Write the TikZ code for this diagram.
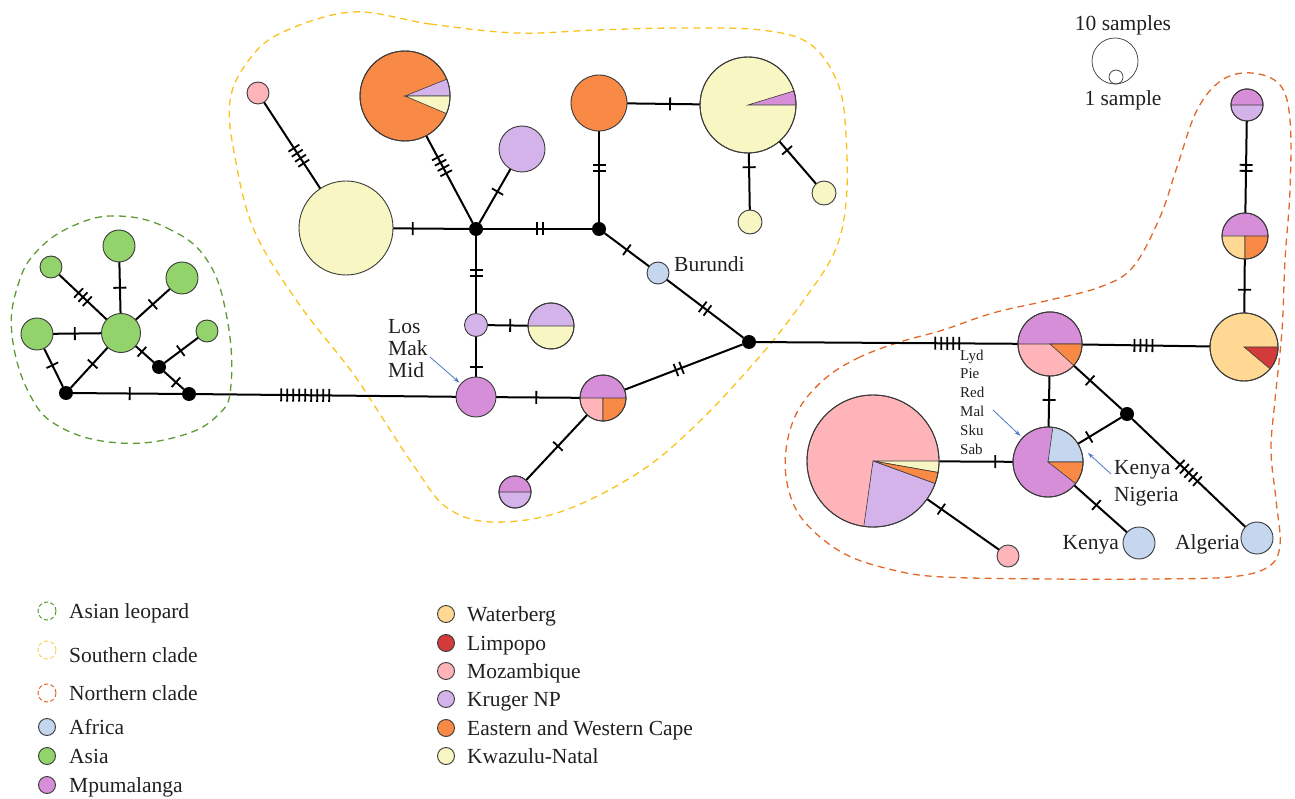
\documentclass[tikz,border=0pt]{standalone}
\usepackage{fontspec}
\setmainfont{Liberation Serif}
\usetikzlibrary{decorations.markings,arrows.meta}
\pgfdeclarelayer{bg}
\pgfsetlayers{bg,main}
\definecolor{africa}{HTML}{C5D6EF}
\definecolor{asia}{HTML}{92D36C}
\definecolor{mpu}{HTML}{D68ED8}
\definecolor{water}{HTML}{FFD993}
\definecolor{limpopo}{HTML}{D33B3B}
\definecolor{moz}{HTML}{FFB4BA}
\definecolor{kruger}{HTML}{D4B2EA}
\definecolor{cape}{HTML}{F98A46}
\definecolor{kzn}{HTML}{F8F6C2}
\definecolor{outl}{HTML}{3A3A3A}
\definecolor{txt}{HTML}{231F20}
\definecolor{asiand}{HTML}{5E9A35}
\definecolor{southd}{HTML}{FBC21E}
\definecolor{northd}{HTML}{E0682A}
\definecolor{arrowblue}{HTML}{4A78C8}
\newcommand\pslice[5]{\filldraw[fill=#5,draw=outl,line width=0.6pt] (#1.center) -- ++(#2:#4pt) arc[start angle=#2,end angle=#3,radius=#4pt] -- cycle;}
\newcommand\prim[2]{\draw[outl,line width=0.9pt] (#1.center) circle[radius=#2pt];}
\begin{document}
\begin{tikzpicture}[x=1pt,y=-1pt,
  hap/.style={circle,draw=outl,line width=0.9pt,inner sep=0pt,outer sep=0pt,minimum size=#1},
  hub/.style={circle,fill=black,inner sep=0pt,outer sep=0pt,minimum size=14pt},
  link/.style={line width=2pt,draw=black},
  mut/.style n args={2}{postaction={decorate},decoration={markings,mark=at position #1 with {\foreach \k in {1,...,#2}{\pgfmathsetmacro\off{(\k-(#2+1)/2)*6}\draw[line width=1.8pt] (\off pt,-6.5pt) -- (\off pt,6.5pt);}}}},
  clade/.style={line width=1.3pt,dash pattern=on 7pt off 5pt},
  lbl/.style={font=\fontsize{21.5}{22}\selectfont,text=txt,inner sep=0pt},
  slbl/.style={font=\fontsize{15}{18.8}\selectfont,text=txt,inner sep=0pt},
  arr/.style={draw=arrowblue,line width=0.8pt,-{Stealth[length=6pt,width=4pt]}},
  legd/.style={circle,line width=1pt,dash pattern=on 4pt off 2.5pt,minimum size=18pt,inner sep=0pt},
  legc/.style={circle,draw=outl,line width=0.9pt,minimum size=17pt,inner sep=0pt}]
\useasboundingbox (0,0) rectangle (1295,799);

% ---------- Asian cluster
\node[hap=39pt,fill=asia] (g0) at (121,333) {};
\node[hap=32pt,fill=asia] (g1) at (119,246) {};
\node[hap=22pt,fill=asia] (g2) at (51,267) {};
\node[hap=32pt,fill=asia] (g3) at (182,278) {};
\node[hap=32pt,fill=asia] (g4) at (37,334) {};
\node[hap=22pt,fill=asia] (g5) at (207,331) {};
\node[hub] (hA) at (159,367) {};
\node[hub] (hB) at (66,393) {};
\node[hub] (hC) at (189,394) {};

% ---------- Southern clade
\node[hap=22pt,fill=moz] (s1) at (258,93) {};
\node[hap=90pt,fill=cape] (s2) at (405,96) {};
\pslice{s2}{0}{22}{45}{kruger}
\pslice{s2}{-23}{0}{45}{kzn}
\prim{s2}{45}
\node[hap=94pt,fill=kzn] (s3) at (346,228) {};
\node[hap=46pt,fill=kruger] (s4) at (522,149) {};
\node[hub] (h1) at (476,229) {};
\node[hap=56pt,fill=cape] (s5) at (599,103) {};
\node[hub] (h2) at (599,229) {};
\node[hap=96pt,fill=kzn] (s6) at (748,105) {};
\pslice{s6}{0}{17}{48}{mpu}
\prim{s6}{48}
\node[hap=24pt,fill=kzn] (s7) at (750,222) {};
\node[hap=24pt,fill=kzn] (s8) at (824,193) {};
\node[hap=22pt,fill=africa] (s9) at (658,273) {};
\node[hub] (h3) at (749,342) {};
\node[hap=23pt,fill=kruger] (s10) at (476,325) {};
\node[hap=46pt,fill=kzn] (s11) at (551,326) {};
\pslice{s11}{0}{180}{23}{kruger}
\prim{s11}{23}
\node[hap=40pt,fill=mpu] (s12) at (476,397) {};
\node[hap=46pt,fill=mpu] (s13) at (603,398) {};
\pslice{s13}{180}{270}{23}{moz}
\pslice{s13}{270}{360}{23}{cape}
\prim{s13}{23}
\node[hap=32pt,fill=kruger] (s14) at (515,492) {};
\pslice{s14}{0}{180}{16}{mpu}
\prim{s14}{16}

% ---------- Northern clade
\node[hap=64pt,fill=moz] (n1) at (1050,344) {};
\pslice{n1}{0}{180}{32}{mpu}
\pslice{n1}{-42}{0}{32}{cape}
\prim{n1}{32}
\node[hap=68pt,fill=water] (n2) at (1244,347) {};
\pslice{n2}{-40}{0}{34}{limpopo}
\prim{n2}{34}
\node[hap=46pt,fill=mpu] (n3) at (1245,236) {};
\pslice{n3}{180}{270}{23}{water}
\pslice{n3}{270}{360}{23}{cape}
\prim{n3}{23}
\node[hap=32pt,fill=kruger] (n4) at (1247,105) {};
\pslice{n4}{0}{180}{16}{mpu}
\prim{n4}{16}
\node[hap=70pt,fill=mpu] (n5) at (1048,462) {};
\pslice{n5}{0}{82}{35}{africa}
\pslice{n5}{-38}{0}{35}{cape}
\prim{n5}{35}
\node[hap=132pt,fill=moz] (n6) at (873,461) {};
\pslice{n6}{-10}{0}{66}{kzn}
\pslice{n6}{-20}{-10}{66}{cape}
\pslice{n6}{-98}{-20}{66}{kruger}
\prim{n6}{66}
\node[hap=22pt,fill=moz] (n7) at (1008,556) {};
\node[hap=32pt,fill=africa] (n8) at (1139,543) {};
\node[hap=32pt,fill=africa] (n9) at (1257,538) {};
\node[hub] (h4) at (1127,414) {};

% ---------- connectors, outlines
\begin{pgfonlayer}{bg}
\draw[clade,draw=asiand] plot[smooth cycle,tension=0.7] coordinates {(118,216) (167,228) (207,260) (227,318) (231,385) (218,415) (180,436) (120,443) (62,428) (30,395) (12,335) (18,285) (38,250) (75,225)};
\draw[clade,draw=southd] plot[smooth cycle,tension=0.6] coordinates {(352,12) (430,24) (516,33) (597,30) (680,28) (761,30) (810,44) (838,84) (846,135) (846,203) (834,253) (801,304) (761,355) (699,422) (638,473) (560,512) (491,522) (446,507) (414,466) (385,422) (352,372) (299,304) (254,230) (234,152) (230,101) (246,64) (279,34)};
\draw[clade,draw=northd] plot[smooth cycle,tension=0.6] coordinates {(900,342) (860,357) (827,377) (800,407) (787,443) (787,483) (803,520) (843,553) (893,570) (943,577) (1050,579) (1150,579) (1230,577) (1268,567) (1280,545) (1276,500) (1271,450) (1275,400) (1282,330) (1285,260) (1290,190) (1290,120) (1280,85) (1252,73) (1222,80) (1197,110) (1177,167) (1160,217) (1133,267) (1100,287) (1050,300) (993,313) (943,330)};

\draw[link,mut={0.55}{1}] (g0) -- (g4);
\draw[link,mut={0.5}{1}] (g0) -- (g1);
\draw[link,mut={0.5}{3}] (g0) -- (g2);
\draw[link,mut={0.5}{1}] (g0) -- (g3);
\draw[link,mut={0.41}{1}] (g0) -- (hB);
\draw[link,mut={0.44}{1}] (g4) -- (hB);
\draw[link,mut={0.52}{1}] (hB) -- (hC);
\draw[link,mut={0.35}{1}] (g0) -- (hA);
\draw[link,mut={0.48}{1}] (hA) -- (g5);
\draw[link,mut={0.6}{1}] (hA) -- (hC);
\draw[link,mut={0.42}{9}] (hC) -- (s12);

\draw[link,mut={0.62}{4}] (s1) -- (s3);
\draw[link,mut={0.34}{4}] (s2) -- (h1);
\draw[link,mut={0.42}{1}] (s4) -- (h1);
\draw[link,mut={0.26}{1}] (s3) -- (h1);
\draw[link,mut={0.52}{2}] (h1) -- (h2);
\draw[link,mut={0.48}{2}] (h1) -- (s10);
\draw[link,mut={0.41}{2}] (s5) -- (h2);
\draw[link,mut={0.59}{1}] (s5) -- (s6);
\draw[link,mut={0.25}{1}] (s6) -- (s7);
\draw[link,mut={0.21}{1}] (s6) -- (s8);
\draw[link,mut={0.5}{1}] (h2) -- (s9);
\draw[link,mut={0.5}{2}] (s9) -- (h3);
\draw[link,mut={0.56}{1}] (s10) -- (s11);
\draw[link,mut={0.75}{1}] (s10) -- (s12);
\draw[link,mut={0.48}{1}] (s12) -- (s13);
\draw[link,mut={0.46}{2}] (s13) -- (h3);
\draw[link,mut={0.48}{1}] (s13) -- (s14);
\draw[link,mut={0.73}{5}] (h3) -- (n1);

\draw[link,mut={0.47}{1}] (n1) -- (n5);
\draw[link,mut={0.48}{4}] (n1) -- (n2);
\draw[link,mut={0.34}{1}] (n1) -- (h4);
\draw[link,mut={0.74}{1}] (h4) -- (n5);
\draw[link,mut={0.5}{5}] (h4) -- (n9);
\draw[link,mut={0.42}{1}] (n5) -- (n8);
\draw[link,mut={0.24}{1}] (n5) -- (n6);
\draw[link,mut={0.2}{1}] (n6) -- (n7);
\draw[link,mut={0.57}{1}] (n3) -- (n2);
\draw[link,mut={0.51}{2}] (n4) -- (n3);
\end{pgfonlayer}

% ---------- labels
\node[lbl,anchor=base west] (tbur) at (674,272) {Burundi};
\node[lbl,anchor=north west,align=left] (tlmm) at (388,319) {Los\\Mak\\Mid};
\coordinate (a1s) at (430,357);
\draw[arr,shorten >=2pt] (a1s) -- (s12);
\node[slbl,anchor=north west,align=left] (tlyd) at (960,349.5) {Lyd\\Pie\\Red\\Mal\\Sku\\Sab};
\coordinate (a2s) at (993,410);
\draw[arr,shorten >=3pt] (a2s) -- (n5);
\node[lbl,anchor=north west,align=left,font=\fontsize{21.5}{27}\selectfont] (tkn) at (1114,460.5) {Kenya\\Nigeria};
\coordinate (a3s) at (1111,474);
\coordinate (a3e) at (1088,453);
\draw[arr] (a3s) -- (a3e);
\node[lbl,anchor=base east] (tken) at (1119,549) {Kenya};
\node[lbl,anchor=base west] (talg) at (1175,549) {Algeria};

% ---------- size legend
\node[circle,draw=outl,line width=0.7pt,minimum size=46pt,inner sep=0pt] (big) at (1115,61) {};
\node[circle,draw=outl,line width=0.7pt,minimum size=14pt,inner sep=0pt] (small) at (1116,77) {};
\node[lbl,anchor=base] (t10) at (1123,31) {10 samples};
\node[lbl,anchor=base] (t1) at (1123,106) {1 sample};

% ---------- colour legend
\node[legd,draw=asiand] (l1) at (47,611) {};
\node[lbl,anchor=base west] (lt1) at (69,618) {Asian leopard};
\node[legd,draw=southd!70] (l2) at (47,650) {};
\node[lbl,anchor=base west] (lt2) at (69,662) {Southern clade};
\node[legd,draw=northd] (l3) at (47,693) {};
\node[lbl,anchor=base west] (lt3) at (69,700) {Northern clade};
\node[legc,fill=africa] (l4) at (47,727) {};
\node[lbl,anchor=base west] (lt4) at (69,734) {Africa};
\node[legc,fill=asia] (l5) at (47,756) {};
\node[lbl,anchor=base west] (lt5) at (69,763) {Asia};
\node[legc,fill=mpu] (l6) at (47,785) {};
\node[lbl,anchor=base west] (lt6) at (69,792) {Mpumalanga};

\node[legc,fill=water] (m1) at (446,614) {};
\node[lbl,anchor=base west] (mt1) at (467,621) {Waterberg};
\node[legc,fill=limpopo] (m2) at (446,643) {};
\node[lbl,anchor=base west] (mt2) at (467,650) {Limpopo};
\node[legc,fill=moz] (m3) at (446,671) {};
\node[lbl,anchor=base west] (mt3) at (467,678) {Mozambique};
\node[legc,fill=kruger] (m4) at (446,699) {};
\node[lbl,anchor=base west] (mt4) at (467,706) {Kruger NP};
\node[legc,fill=cape] (m5) at (446,728) {};
\node[lbl,anchor=base west] (mt5) at (467,735) {Eastern and Western Cape};
\node[legc,fill=kzn] (m6) at (446,756) {};
\node[lbl,anchor=base west] (mt6) at (467,763) {Kwazulu-Natal};
\end{tikzpicture}
\end{document}
